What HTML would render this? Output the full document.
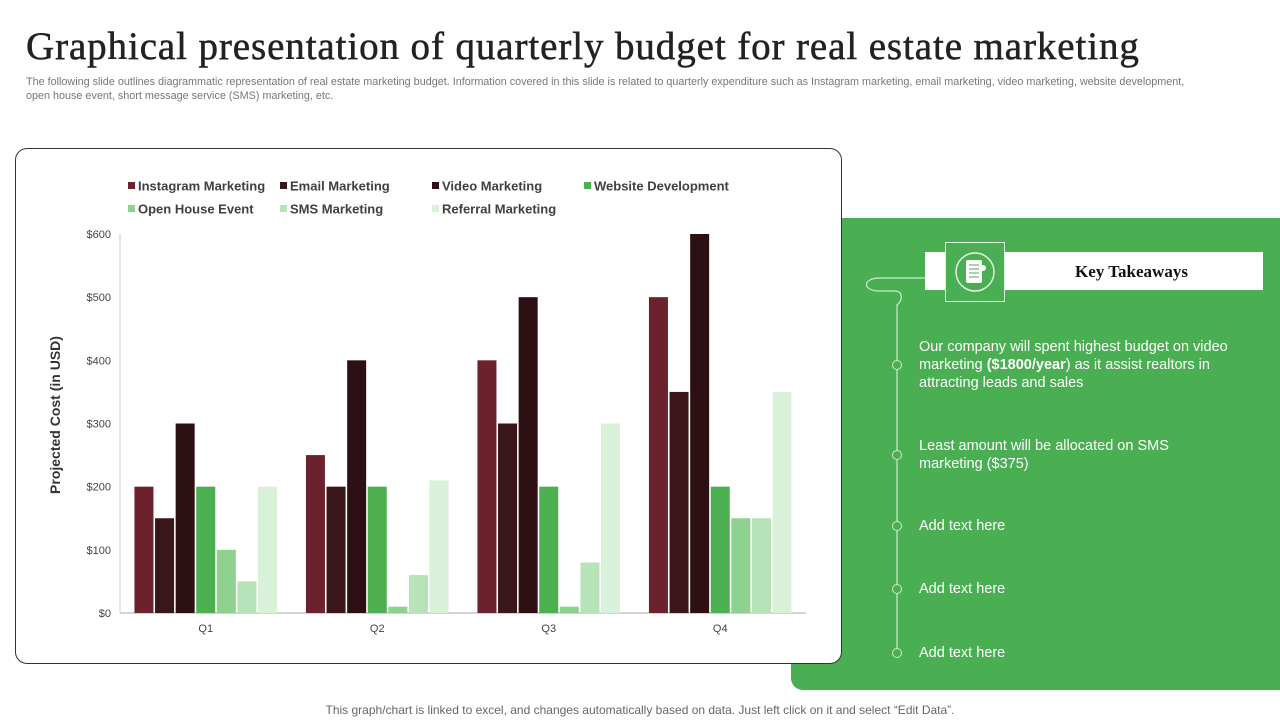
<!DOCTYPE html>
<html><head><meta charset="utf-8"><style>
body{margin:0;width:1280px;height:720px;position:relative;background:#fff;font-family:"Liberation Sans",sans-serif;overflow:hidden}
.abs{position:absolute}
h1{position:absolute;left:26px;top:24px;margin:0;font-family:"Liberation Serif",serif;font-weight:normal;font-size:39px;color:#222;letter-spacing:0.9px;-webkit-text-stroke:0.5px #222;white-space:nowrap}
.sub{left:26px;top:75px;width:1170px;font-size:10.8px;color:#777;line-height:14px}
.panel{left:791px;top:218px;width:489px;height:472px;background:#4aae52;border-radius:12px 0 0 12px}
.card{left:15px;top:148px;width:825px;height:514px;border:1px solid #333;border-radius:12px;background:#fff}
.tk{color:#fff;font-size:14.5px;line-height:18px;left:919px;width:310px}
.dot{width:8px;height:8px;border:1px solid #cfe9cf;border-radius:50%;left:892px;background:#4aae52}
.foot{left:0;width:1280px;top:703px;text-align:center;font-size:12px;color:#666}
</style></head><body>
<h1>Graphical presentation of quarterly budget for real estate marketing</h1>
<div class="abs sub">The following slide outlines diagrammatic representation of real estate marketing budget. Information covered in this slide is related to quarterly expenditure such as Instagram marketing, email marketing, video marketing, website development, open house event, short message service (SMS) marketing, etc.</div>
<div class="abs panel"></div>
<svg class="abs" style="left:0;top:0" width="1280" height="720">
<path d="M925 278 H880 C862 278 862 291 880 291 H895 C903 291 903 300 897 305 V655" fill="none" stroke="#cfe9cf" stroke-width="1.2"/>
</svg>
<div class="abs" style="left:925px;top:252px;width:338px;height:38px;background:#fff"></div>
<div class="abs" style="left:1000px;top:262px;width:263px;text-align:center;font-family:'Liberation Serif',serif;font-weight:bold;font-size:17px;color:#111">Key Takeaways</div>
<div class="abs" style="left:945px;top:242px;width:58px;height:58px;background:#4aae52;border:1px solid #e0f2e0">
<svg width="58" height="58"><circle cx="29" cy="29" r="19" fill="none" stroke="#e0f2e0" stroke-width="1.5"/><rect x="20" y="17" width="16" height="23" rx="2" fill="#fff"/><g stroke="#4aae52"><line x1="23" y1="22" x2="33" y2="22"/><line x1="23" y1="26" x2="33" y2="26"/><line x1="23" y1="30" x2="33" y2="30"/><line x1="23" y1="34" x2="33" y2="34"/></g><circle cx="37" cy="25" r="3" fill="#fff"/></svg></div>
<div class="abs dot" style="top:360px"></div>
<div class="abs tk" style="top:338px">Our company will spent highest budget on video marketing <b>($1800/year</b>) as it assist realtors in attracting leads and sales</div>
<div class="abs dot" style="top:450px"></div>
<div class="abs tk" style="top:437px">Least amount will be allocated on SMS marketing ($375)</div>
<div class="abs dot" style="top:521px"></div>
<div class="abs tk" style="top:517px">Add text here</div>
<div class="abs dot" style="top:584px"></div>
<div class="abs tk" style="top:580px">Add text here</div>
<div class="abs dot" style="top:648px"></div>
<div class="abs tk" style="top:644px">Add text here</div>
<div class="abs card"></div>
<svg id="chart" class="abs" style="left:0;top:0" width="845" height="670"></svg>
<div class="abs foot">This graph/chart is linked to excel,  and changes automatically based on data. Just left click on it and select “Edit Data”.</div>
<script>
const categories=["Q1","Q2","Q3","Q4"];
const seriesNames=["Instagram Marketing","Email Marketing","Video Marketing","Website Development","Open House Event","SMS Marketing","Referral Marketing"];
const instagram=[200,250,400,500];
const email=[150,200,300,350];
const video=[300,400,500,600];
const website=[200,200,200,200];
const openHouse=[100,10,10,150];
const sms=[50,60,80,150];
const referral=[200,210,300,350];
const yTicks=[0,100,200,300,400,500,600];
const series=[instagram,email,video,website,openHouse,sms,referral];
const colors=["#6b222c","#3a161b","#2d1014","#4caf50","#8fd18f","#b8e2b8","#d9f0d9"];
const NS="http://www.w3.org/2000/svg";
const svg=document.getElementById('chart');
const x0=120,x1=806,y0=613,yTop=234,yMax=600;
const y=v=>y0-(v/yMax)*(y0-yTop);
const gw=(x1-x0)/categories.length;
const gx=i=>x0+gw*(i+0.5);
function mk(t,a){const e=document.createElementNS(NS,t);for(const k in a)e.setAttribute(k,a[k]);svg.appendChild(e);return e;}
yTicks.forEach(t=>{const e=mk('text',{x:111,y:y(t)+4,'text-anchor':'end','font-size':11,fill:'#444','font-family':'Liberation Sans'});e.textContent='$'+t;

});
const ax=mk('line',{x1:x0,y1:y0,x2:x1,y2:y0,stroke:'#aaa'});


const ay=mk('line',{x1:x0,y1:yTop,x2:x0,y2:y0,stroke:'#ccc'});


const pitch=20.6,bw=19;
categories.forEach((c,i)=>{
 const t=mk('text',{x:gx(i),y:632,'text-anchor':'middle','font-size':11,fill:'#444','font-family':'Liberation Sans'});t.textContent=c;
 
 
 series.forEach((s,j)=>{
  const bx=gx(i)+(j-3)*pitch-bw/2;
  const r=mk('rect',{x:bx,y:y(s[i]),width:bw,height:y0-y(s[i]),fill:colors[j]});
  
  
 });
});
const yt=mk('text',{transform:'translate(60,415) rotate(-90)','text-anchor':'middle','font-size':14,'font-weight':'bold',fill:'#333','font-family':'Liberation Sans'});yt.textContent='Projected Cost (in USD)';


const lx=[128,280,432,584,128,280,432],ly=[186,186,186,186,209,209,209];
seriesNames.forEach((n,j)=>{
 const g=document.createElementNS(NS,'g');svg.appendChild(g);
 
 
 const r=document.createElementNS(NS,'rect');r.setAttribute('x',lx[j]);r.setAttribute('y',ly[j]-4);r.setAttribute('width',7);r.setAttribute('height',7);r.setAttribute('fill',colors[j]);g.appendChild(r);
 const t=document.createElementNS(NS,'text');t.setAttribute('x',lx[j]+10);t.setAttribute('y',ly[j]+4.5);t.setAttribute('font-size',13);t.setAttribute('font-weight','bold');t.setAttribute('fill','#404040');t.setAttribute('font-family','Liberation Sans');t.textContent=n;g.appendChild(t);
});
</script>
</body></html>
